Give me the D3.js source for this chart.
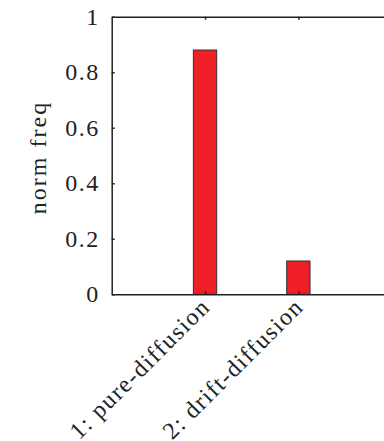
<!DOCTYPE html>
<html>
<head>
<meta charset="utf-8">
<script src="https://cdn.jsdelivr.net/npm/d3@7"></script>
<style>
  body { margin: 0; background: #fff; }
  text { font-family: "Liberation Serif", "DejaVu Serif", serif; fill: #222; }
</style>
</head>
<body>
<div id="chart"></div>
<script>
// data
var categories = ["1: pure-diffusion", "2: drift-diffusion"];
var positions = [1, 2];
var freqs = [0.88, 0.12];
var yTicks = [0, 0.2, 0.4, 0.6, 0.8, 1];

var width = 384, height = 441;

var svg = d3.select("#chart")
  .append("svg")
    .attr("width", width)
    .attr("height", height);

// scales (x domain 0..3 like matlab bar, right edge runs off the page)
var x = d3.scaleLinear().domain([0, 3]).range([111.7, 391.7]);
var y = d3.scaleLinear().domain([0, 1]).range([294.3, 16.7]);

var barW = x(0.25) - x(0);

// bars
svg.selectAll(".bar")
  .data(freqs)
  .enter()
  .append("rect")
    .attr("class", "bar")
    .attr("x", (d, i) => x(positions[i]) - barW / 2)
    .attr("y", d => y(d))
    .attr("width", barW)
    .attr("height", d => y(0) - y(d))
    .style("fill", "#ee1f26")
    .style("stroke", "#333")
    .style("stroke-width", 1);

// left axis, ticks inward
var yAxis = svg.append("g")
  .attr("transform", "translate(" + x(0) + ",0)")
  .call(d3.axisLeft(y).tickValues(yTicks).tickSizeInner(-3).tickSizeOuter(0)
    .tickPadding(12).tickFormat(d3.format("")));
yAxis.selectAll("text")
  .style("font-size", "24px")
  .style("letter-spacing", "1.5px")
  .attr("fill", "#222");

// top axis, ticks only
svg.append("g")
  .attr("transform", "translate(0," + y(1) + ")")
  .call(d3.axisTop(x).tickValues(positions).tickSizeInner(-3).tickSizeOuter(0).tickFormat(""));

// bottom axis with rotated labels
var xAxis = svg.append("g")
  .attr("transform", "translate(0," + y(0) + ")")
  .call(d3.axisBottom(x).tickValues(positions).tickSizeInner(-3).tickSizeOuter(0)
    .tickFormat((d, i) => categories[i]));
xAxis.selectAll("text")
  .style("font-size", "24px")
  .style("letter-spacing", "1.5px")
  .attr("fill", "#222")
  .style("text-anchor", "end")
  .attr("y", 0)
  .attr("dy", "0.7em")
  .attr("transform", "translate(-6,2) rotate(-45)");

svg.selectAll(".domain, .tick line")
  .attr("stroke", "#222")
  .attr("stroke-width", 1.5);

// y label
svg.append("text")
  .attr("transform", "translate(46," + (y(0.5) + 2) + ") rotate(-90)")
  .attr("text-anchor", "middle")
  .style("font-size", "24px")
  .style("letter-spacing", "2px")
  .text("norm freq");
</script>
</body>
</html>
